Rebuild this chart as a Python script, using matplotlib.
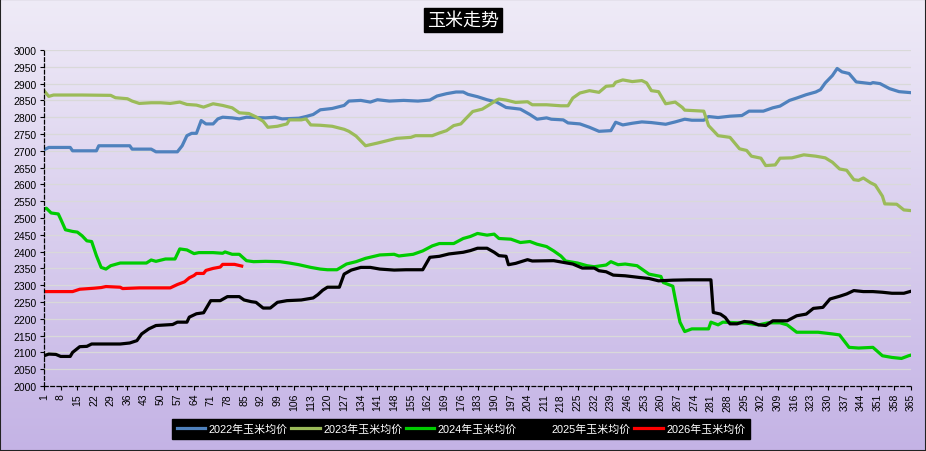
import numpy as np
import matplotlib
matplotlib.use("Agg")
import matplotlib.pyplot as plt

# corn average price by day of year, (day, price) points
pts_2022 = [(1, 2703), (3, 2710), (12, 2710), (13, 2700), (23, 2700), (24, 2715), (37, 2715), (38, 2705),
            (46, 2705), (48, 2697), (57, 2697), (59, 2715), (61, 2745), (63, 2752), (65, 2752), (67, 2790),
            (69, 2780), (72, 2780), (74, 2795), (76, 2800), (80, 2798), (83, 2795), (86, 2800), (94, 2798),
            (98, 2800), (101, 2795), (108, 2797), (111, 2802), (114, 2808), (117, 2822), (122, 2826),
            (127, 2835), (129, 2848), (134, 2850), (138, 2845), (141, 2852), (146, 2848), (152, 2850),
            (158, 2848), (163, 2851), (166, 2863), (170, 2870), (174, 2875), (177, 2875), (179, 2868),
            (183, 2861), (187, 2852), (191, 2845), (195, 2829), (201, 2824), (205, 2808), (208, 2794),
            (212, 2798), (214, 2794), (219, 2792), (221, 2783), (226, 2780), (230, 2770), (234, 2758),
            (239, 2760), (241, 2785), (244, 2777), (248, 2782), (252, 2786), (256, 2784), (262, 2779),
            (266, 2786), (270, 2794), (273, 2791), (278, 2791), (280, 2802), (284, 2799), (289, 2803),
            (294, 2805), (297, 2818), (303, 2818), (307, 2828), (310, 2833), (314, 2850), (317, 2857),
            (321, 2867), (325, 2875), (327, 2882), (329, 2902), (332, 2924), (334, 2945), (336, 2935),
            (339, 2930), (342, 2905), (348, 2900), (349, 2903), (352, 2900), (356, 2885), (360, 2876),
            (365, 2873)]

pts_2023 = [(1, 2879), (3, 2862), (5, 2866), (17, 2866), (29, 2865), (31, 2858), (36, 2855), (38, 2848),
            (41, 2841), (46, 2843), (50, 2843), (54, 2841), (58, 2845), (61, 2838), (65, 2836), (68, 2830),
            (72, 2840), (76, 2835), (80, 2828), (83, 2813), (87, 2811), (90, 2801), (93, 2788), (95, 2770),
            (99, 2773), (103, 2780), (104, 2792), (109, 2792), (111, 2795), (113, 2777), (117, 2776),
            (122, 2773), (127, 2764), (129, 2758), (132, 2744), (136, 2715), (141, 2723), (145, 2730),
            (149, 2737), (155, 2740), (157, 2745), (164, 2745), (167, 2753), (170, 2760), (173, 2775),
            (176, 2780), (178, 2795), (181, 2817), (185, 2824), (188, 2837), (191, 2851), (192, 2854),
            (195, 2851), (199, 2844), (204, 2846), (206, 2837), (212, 2837), (218, 2834), (221, 2834),
            (223, 2857), (226, 2872), (230, 2879), (234, 2874), (237, 2892), (240, 2894), (241, 2904),
            (244, 2911), (248, 2906), (252, 2909), (254, 2902), (256, 2879), (259, 2876), (262, 2840),
            (266, 2845), (269, 2829), (270, 2821), (278, 2818), (280, 2775), (284, 2745), (289, 2740),
            (293, 2706), (296, 2701), (298, 2684), (302, 2678), (304, 2656), (308, 2658), (310, 2678),
            (315, 2679), (320, 2688), (325, 2684), (329, 2679), (332, 2666), (335, 2646), (338, 2642),
            (341, 2614), (343, 2612), (345, 2619), (348, 2605), (350, 2598), (353, 2565), (354, 2542),
            (359, 2541), (362, 2524), (365, 2522)]

pts_2024 = [(1, 2527), (2, 2529), (4, 2515), (7, 2512), (8, 2497), (10, 2465), (13, 2460), (15, 2458),
            (17, 2447), (19, 2432), (21, 2430), (23, 2388), (25, 2353), (27, 2348), (29, 2358), (33, 2366),
            (44, 2366), (46, 2375), (48, 2371), (52, 2378), (56, 2378), (58, 2408), (61, 2405), (64, 2394),
            (66, 2397), (72, 2397), (76, 2395), (77, 2399), (80, 2392), (83, 2392), (86, 2373), (89, 2370),
            (94, 2371), (100, 2370), (104, 2366), (108, 2361), (113, 2353), (117, 2348), (120, 2346),
            (124, 2346), (128, 2363), (132, 2370), (136, 2380), (142, 2390), (148, 2392), (150, 2387),
            (156, 2392), (160, 2402), (164, 2417), (167, 2424), (173, 2424), (177, 2439), (180, 2445),
            (183, 2454), (187, 2449), (190, 2452), (192, 2439), (197, 2437), (201, 2427), (205, 2430),
            (208, 2422), (212, 2415), (215, 2402), (218, 2387), (220, 2372), (225, 2366), (229, 2358),
            (232, 2355), (237, 2360), (239, 2370), (242, 2361), (245, 2363), (250, 2358), (252, 2348),
            (255, 2333), (260, 2326), (261, 2308), (265, 2297), (266, 2260), (268, 2190), (270, 2162),
            (273, 2170), (280, 2170), (281, 2190), (284, 2182), (286, 2190), (296, 2187), (301, 2182),
            (305, 2188), (310, 2188), (313, 2182), (317, 2160), (321, 2160), (326, 2160), (332, 2155),
            (335, 2152), (339, 2115), (343, 2113), (349, 2115), (353, 2090), (357, 2085), (361, 2082),
            (364, 2090), (365, 2092)]

pts_2025 = [(1, 2090), (3, 2095), (6, 2094), (8, 2088), (12, 2088), (13, 2100), (16, 2117), (19, 2118),
            (21, 2125), (33, 2125), (37, 2128), (40, 2135), (42, 2155), (45, 2170), (48, 2180), (55, 2183),
            (57, 2190), (61, 2190), (62, 2205), (65, 2215), (68, 2218), (71, 2254), (75, 2254), (78, 2266),
            (83, 2266), (85, 2256), (88, 2251), (90, 2249), (93, 2232), (96, 2232), (99, 2249), (103, 2254),
            (109, 2256), (114, 2262), (116, 2272), (118, 2285), (120, 2294), (125, 2294), (127, 2333),
            (130, 2345), (134, 2353), (138, 2353), (142, 2348), (148, 2345), (153, 2346), (160, 2346),
            (163, 2383), (167, 2386), (171, 2393), (177, 2398), (180, 2403), (183, 2410), (187, 2410),
            (190, 2398), (192, 2388), (195, 2386), (196, 2361), (199, 2365), (204, 2376), (206, 2372),
            (215, 2373), (219, 2368), (223, 2363), (227, 2351), (232, 2351), (234, 2343), (237, 2340),
            (240, 2330), (245, 2328), (251, 2323), (255, 2320), (259, 2313), (265, 2315), (272, 2316),
            (281, 2316), (282, 2219), (285, 2214), (287, 2204), (289, 2185), (292, 2185), (295, 2192),
            (298, 2190), (301, 2182), (304, 2180), (307, 2194), (313, 2194), (317, 2209), (321, 2214),
            (324, 2231), (328, 2234), (331, 2259), (335, 2267), (338, 2274), (341, 2284), (345, 2281),
            (349, 2281), (353, 2279), (357, 2276), (362, 2276), (365, 2282)]

pts_2026 = [(1, 2281), (13, 2281), (16, 2288), (22, 2291), (25, 2293), (27, 2296), (33, 2294), (34, 2290),
            (41, 2292), (54, 2292), (57, 2302), (60, 2310), (62, 2322), (64, 2329), (65, 2335), (68, 2335),
            (69, 2344), (72, 2350), (75, 2354), (76, 2362), (81, 2362), (84, 2357)]

labels = ["2022年玉米均价", "2023年玉米均价", "2024年玉米均价", "2025年玉米均价", "2026年玉米均价"]
colors = ["#4F81BD", "#9BBB59", "#00CC00", "#000000", "#FF0000"]
series = [pts_2022, pts_2023, pts_2024, pts_2025, pts_2026]
x_ticks = list(range(1, 366, 7))

plt.rcParams['font.family'] = ['Liberation Sans', 'Noto Sans CJK SC']

fig = plt.figure(figsize=(9.26, 4.52), dpi=100)

# gradient background over the whole figure
bg = fig.add_axes([0, 0, 1, 1], zorder=-10)
grad = np.linspace(0, 1, 256).reshape(-1, 1)
cmap = matplotlib.colors.LinearSegmentedColormap.from_list("bg", ["#EFEBF7", "#C4B3E5"])
bg.imshow(grad, aspect="auto", cmap=cmap, extent=[0, 1, 0, 1])
bg.set_axis_off()

ax = fig.add_axes([44 / 926, 1 - 387 / 452, (911 - 44) / 926, (387 - 51) / 452])
ax.patch.set_alpha(0)

for pts, lab, col in zip(series, labels, colors):
    d, p = zip(*pts)
    ax.plot(d, p, color=col, lw=2.3, label=lab, solid_joinstyle="round")

ax.set_xlim(1, 365)
ax.set_ylim(2000, 3000)
ax.set_yticks(range(2000, 3001, 50))
ax.set_xticks(x_ticks)
ax.set_xticklabels([str(t) for t in x_ticks], rotation=90, fontsize=7.5)
ax.tick_params(axis="y", labelsize=7.5, length=3, pad=2)
ax.tick_params(axis="x", length=3, pad=2)
ax.grid(axis="y", color="#D9D9D9", lw=0.9)
ax.set_axisbelow(True)

for s in ["top", "right"]:
    ax.spines[s].set_visible(False)
for s in ["left", "bottom"]:
    ax.spines[s].set_linestyle((0, (3, 2)))
    ax.spines[s].set_linewidth(0.9)

fig.text(0.5, 1 - 21 / 452, "玉米走势", ha="center", va="center", color="white", fontsize=13,
         family=["Noto Sans CJK SC"],
         bbox=dict(facecolor="black", edgecolor="black", pad=2.5))

leg = fig.legend(loc="center", bbox_to_anchor=(0.498, 1 - 430 / 452), ncol=5, fontsize=7.9,
                 frameon=True, fancybox=False, facecolor="black", edgecolor="black",
                 labelcolor="white", handlelength=2.6, columnspacing=0.3, handletextpad=0.3,
                 borderpad=0.45, borderaxespad=0)
leg.get_frame().set_alpha(1)

fig.patches.append(matplotlib.patches.Rectangle((0, 0), 1, 1, transform=fig.transFigure,
                                                fill=False, edgecolor="#222222", lw=1.5))

fig.savefig("out.png", dpi=100)
